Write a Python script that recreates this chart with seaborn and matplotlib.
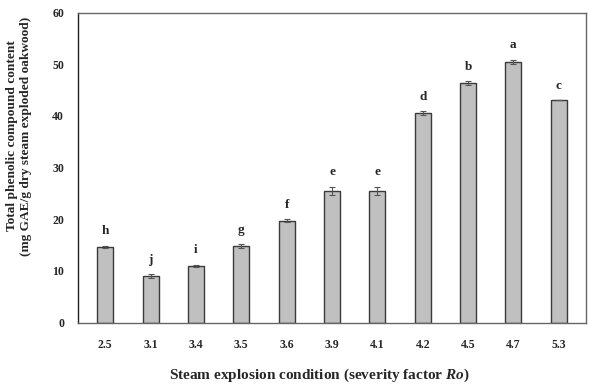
import pandas as pd
import matplotlib.pyplot as plt
import seaborn as sns

# Values
severity = ["2.5", "3.1", "3.4", "3.5", "3.6", "3.9", "4.1", "4.2", "4.5", "4.7", "5.3"]
phenolic = [14.7, 9.0, 11.0, 14.8, 19.7, 25.5, 25.5, 40.5, 46.3, 50.5, 43.0]
errors = [0.2, 0.4, 0.2, 0.3, 0.3, 0.8, 0.8, 0.4, 0.4, 0.4, 0.0]
letters = ["h", "j", "i", "g", "f", "e", "e", "d", "b", "a", "c"]

df = pd.DataFrame({"Ro": severity, "TPC": phenolic})

sns.set_style("white")
plt.rcParams["font.family"] = ["Liberation Serif", "DejaVu Serif"]
plt.rcParams["font.weight"] = "bold"
plt.rcParams["mathtext.fontset"] = "custom"
plt.rcParams["mathtext.bfit"] = "Liberation Serif:italic:bold"

fig, ax = plt.subplots(figsize=(5.9, 3.85), dpi=100)
fig.subplots_adjust(left=78 / 590, right=586 / 590, top=1 - 12.5 / 385, bottom=1 - 322.5 / 385)

sns.barplot(x="Ro", y="TPC", data=df, color="#c0c0c0", edgecolor="#3a3a3a",
            linewidth=1.0, width=0.35, saturation=1, errorbar=None, ax=ax)
ax.errorbar(range(len(severity)), phenolic, yerr=errors, fmt="none",
            ecolor="#555555", elinewidth=0.8, capsize=2, capthick=0.8)

for i, (v, e, lab) in enumerate(zip(phenolic, errors, letters)):
    ax.text(i, v + e + 1.6, lab, ha="center", va="bottom", fontsize=9.5, fontweight="bold")

ax.set_ylim(0, 60)
ax.set_yticks(range(0, 61, 10))
ax.set_xlim(-0.6, len(severity) - 0.4)
ax.tick_params(axis="both", labelsize=8.5, length=0)
ax.tick_params(axis="x", pad=12)
ax.tick_params(axis="y", pad=10)
for lab in ax.get_xticklabels() + ax.get_yticklabels():
    lab.set_fontweight("bold")

for s in ax.spines.values():
    s.set_color("#666666")
    s.set_linewidth(1.0)
ax.spines["left"].set_color("#222222")

ax.set_ylabel("")
ax.set_xlabel("")
fig.text(19 / 590, 1 - 136 / 385,
         "Total phenolic compound content\n(mg GAE/g dry steam exploded oakwood)",
         rotation=90, ha="center", va="center", multialignment="center",
         fontsize=9.6, fontweight="bold", linespacing=1.15)
fig.text(319 / 590, 1 - 367 / 385,
         r"Steam explosion condition (severity factor $\mathbfit{Ro}$)",
         ha="center", va="top", fontsize=11, fontweight="bold")

plt.savefig("out.png", dpi=100)
